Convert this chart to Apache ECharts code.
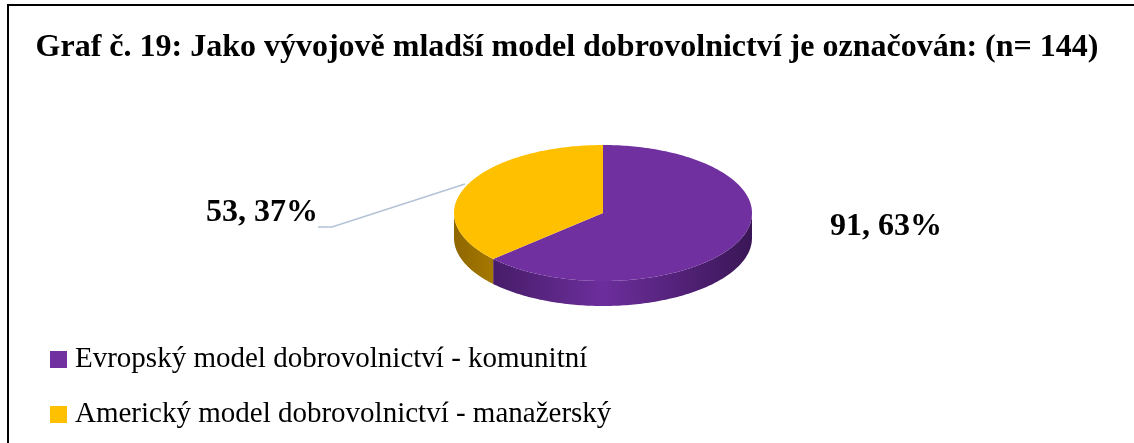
<!DOCTYPE html>
<html>
<head>
<meta charset="utf-8">
<script src="https://cdn.jsdelivr.net/npm/echarts@6/dist/echarts.min.js"></script>
<style>
html,body{margin:0;padding:0;background:#fff;}
#chart{width:1134px;height:443px;}
</style>
</head>
<body>
<div id="chart"></div>
<script>
const titleText = 'Graf č. 19: Jako vývojově mladší model dobrovolnictví je označován: (n= 144)';
const categories = ['Evropský model dobrovolnictví - komunitní', 'Americký model dobrovolnictví - manažerský'];
const values = [91, 53];
const colors = ['#7030A0', '#FFC000'];
const sideStops = [
  [{offset:0,color:'#3a1656'},{offset:0.5,color:'#6c2e9c'},{offset:1,color:'#3a1656'}],
  [{offset:0,color:'#8f6700'},{offset:0.5,color:'#e0a800'},{offset:1,color:'#8f6700'}]
];

const total = values.reduce((a,b)=>a+b,0);
const chart = echarts.init(document.getElementById('chart'));

const CX = 603, CY = 213, RX = 149, RY = 68, DEPTH = 25;
function pt(theta, dy){
  const r = theta*Math.PI/180;
  return [CX + RX*Math.sin(r), CY - RY*Math.cos(r) + (dy||0)];
}
function makeRender(i){
  return function(params, api){
    let start = 0;
    for (let k=0;k<i;k++) start += values[k]/total*360;
    const v = api.value(0);
    const end = start + v/total*360;
    const children = [];
    const s = Math.max(start, 90), e = Math.min(end, 270);
    if (e > s){
      const top = [], bot = [];
      for (let t=s; t<=e+1e-6; t+=1){ top.push(pt(Math.min(t,e))); bot.push(pt(Math.min(t,e), DEPTH)); }
      top.push(pt(e)); bot.push(pt(e, DEPTH));
      children.push({type:'polygon', shape:{points: top.concat(bot.reverse())},
        style:{fill:{type:'linear', x:CX-RX, y:0, x2:CX+RX, y2:0, global:true, colorStops: sideStops[i]}}});
    }
    const face = [[CX,CY]];
    for (let t=start; t<end; t+=1) face.push(pt(t));
    face.push(pt(end));
    children.push({type:'polygon', shape:{points: face}, style:{fill: colors[i]}});
    const pct = Math.round(v/total*100);
    const label = v + ', ' + pct + '%';
    if (i === 0){
      children.push({type:'text', x: CX+283, y: CY+14, style:{text: label, fill:'#000', font:'bold 32px "Liberation Serif"', align:'center', verticalAlign:'middle'}});
    } else {
      children.push({type:'polyline', shape:{points:[[CX-285,CY+14],[CX-271,CY+14],[CX-138,CY-29]]}, style:{stroke:'#b4c2d6', lineWidth:1.5, fill:null}});
      children.push({type:'text', x: CX-341, y: CY, style:{text: label, fill:'#000', font:'bold 32px "Liberation Serif"', align:'center', verticalAlign:'middle'}});
    }
    return {type:'group', children};
  };
}

const series = categories.map((name, i) => ({
  type:'custom', name, coordinateSystem:'none',
  itemStyle:{color: colors[i]},
  renderItem: makeRender(i),
  data:[[values[i]]],
  silent:true, animation:false
}));

chart.setOption({
  animation:false,
  title:{text:titleText, left:'center', top:27, textStyle:{fontFamily:'Liberation Serif', fontSize:32, fontWeight:'bold', color:'#000'}},
  legend:{orient:'vertical', left:45, top:340, itemWidth:17, itemHeight:17, itemGap:26, icon:'rect',
    textStyle:{fontFamily:'Liberation Serif', fontSize:29, color:'#000', padding:[0,0,0,3]}, data:categories},
  graphic:[{type:'rect', shape:{x:8, y:5, width:1140, height:480}, style:{fill:null, stroke:'#000', lineWidth:2}, silent:true}],
  series
});
</script>
</body>
</html>
